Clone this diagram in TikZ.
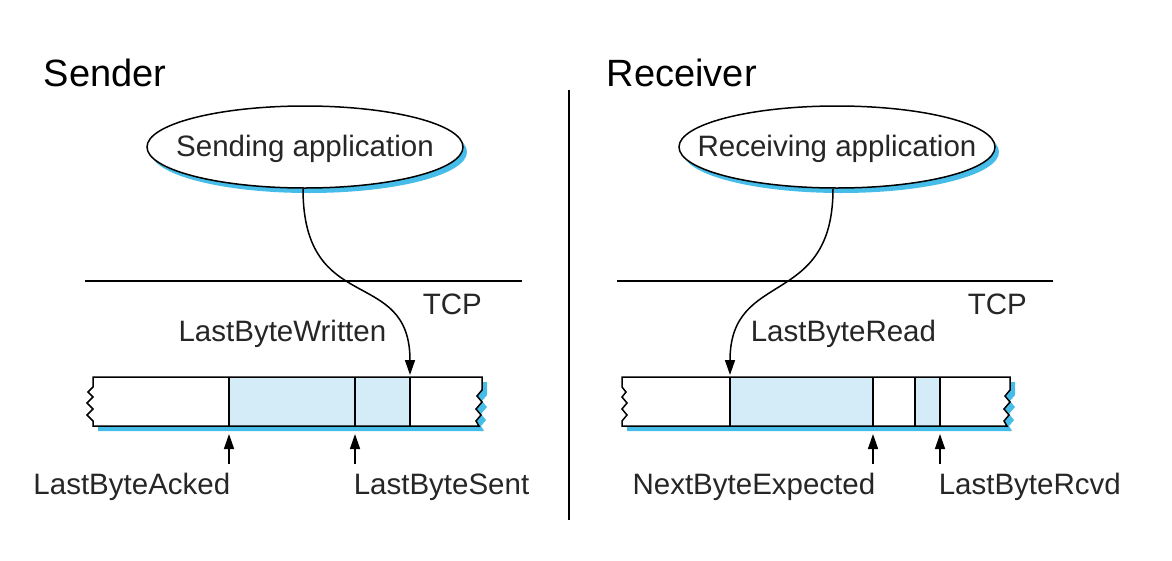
\documentclass[tikz,border=0pt]{standalone}
\usepackage{fontspec}
\setmainfont{Liberation Sans}
\usetikzlibrary{arrows.meta,shapes.geometric,shadows}
\definecolor{bufblue}{HTML}{D3ECF8}
\definecolor{shblue}{HTML}{45BDE8}
\def\SbufShape{(93,377) -- (482,377) -- (482,390) -- (477,396) -- (482,402) -- (476,409) -- (481,415) -- (476,421) -- (479,426) -- (93,426) -- (93,421) -- (87,415) -- (93,409) -- (87,403) -- (93,397) -- (88,392) -- (93,387) -- cycle}
\def\RbufShape{(622,377) -- (1010,377) -- (1010,390) -- (1005,396) -- (1010,402) -- (1004,409) -- (1009,415) -- (1004,421) -- (1007,426) -- (622,426) -- (622,421) -- (627,415) -- (622,409) -- (627,403) -- (622,397) -- (626,392) -- (622,387) -- cycle}
\begin{document}
\begin{tikzpicture}[x=1pt,y=-1pt,line width=1.5pt,
  lbl/.style={font=\fontsize{29.5pt}{34pt}\selectfont, inner sep=0pt, text=black!85},
  ttl/.style={font=\fontsize{38pt}{44pt}\selectfont, inner sep=0pt},
  app/.style={lbl, ellipse, draw, fill=white, line width=1.5pt, minimum width=316pt,
    minimum height=82pt, inner xsep=-30pt, inner ysep=0pt,
    text height=21pt, text depth=2pt,
    drop shadow={shadow xshift=4pt, shadow yshift=-5pt, fill=shblue, opacity=1}},
  ptr/.style={-{Triangle[length=15pt,width=10pt]}, line width=1.5pt}]
\useasboundingbox (0,0) rectangle (1172,560);

% titles
\node[ttl, anchor=base west] (sender) at (43,86) {Sender};
\node[ttl, anchor=base west] (receiver) at (606,86) {Receiver};

% divider
\coordinate (divtop) at (569,90);
\coordinate (divbot) at (569,520);
\draw (divtop) -- (divbot);

% applications
\node[app] (sapp) at (305,147) {Sending application};
\node[app] (rapp) at (837,147) {Receiving application};

% TCP lines
\coordinate (stl) at (85,281); \coordinate (str) at (522,281);
\coordinate (rtl) at (617,281); \coordinate (rtr) at (1053,281);
\draw (stl) -- (str);
\draw (rtl) -- (rtr);
\node[lbl, anchor=base west] (stcp) at (422,314) {TCP};
\node[lbl, anchor=base west] (rtcp) at (967,314) {TCP};

% sender buffer
\fill[shblue, shift={(5,5)}] \SbufShape;
\fill[white] \SbufShape;
\fill[bufblue] (229,377) rectangle (410,426);
\draw (229,377) -- (229,426);
\draw (355,377) -- (355,426);
\draw (410,377) -- (410,426);
\draw[line join=miter] \SbufShape;

% receiver buffer
\fill[shblue, shift={(5,5)}] \RbufShape;
\fill[white] \RbufShape;
\fill[bufblue] (730,377) rectangle (873,426);
\fill[bufblue] (915,377) rectangle (940,426);
\draw (730,377) -- (730,426);
\draw (873,377) -- (873,426);
\draw (915,377) -- (915,426);
\draw (940,377) -- (940,426);
\draw[line join=miter] \RbufShape;

% pointers from applications
\coordinate (lbwPt) at (410,375);
\coordinate (lbrdPt) at (730,375);
\draw[ptr] ([xshift=-2pt]sapp.south) .. controls +(0,129) and +(0,-110) .. (lbwPt);
\draw[ptr] ([xshift=-4pt]rapp.south) .. controls +(0,121) and +(0,-107) .. (lbrdPt);
\node[lbl, anchor=base east] (lbw) at (387,341) {LastByteWritten};
\node[lbl, anchor=base west] (lbrd) at (750,341) {LastByteRead};

% bottom pointers
\coordinate (lbaTip) at (229,434);
\coordinate (lbsTip) at (355,434);
\coordinate (nbeTip) at (873,434);
\coordinate (lbrTip) at (940,434);
\coordinate (lbaTail) at (229,464);
\coordinate (lbsTail) at (355,464);
\coordinate (nbeTail) at (873,464);
\coordinate (lbrTail) at (940,464);
\draw[ptr] (lbaTail) -- (lbaTip);
\draw[ptr] (lbsTail) -- (lbsTip);
\draw[ptr] (nbeTail) -- (nbeTip);
\draw[ptr] (lbrTail) -- (lbrTip);
\node[lbl, anchor=base east] (lba) at (231,494) {LastByteAcked};
\node[lbl, anchor=base west] (lbs) at (353,494) {LastByteSent};
\node[lbl, anchor=base east] (nbe) at (876,494) {NextByteExpected};
\node[lbl, anchor=base west] (lbr) at (938,494) {LastByteRcvd};
\end{tikzpicture}
\end{document}
